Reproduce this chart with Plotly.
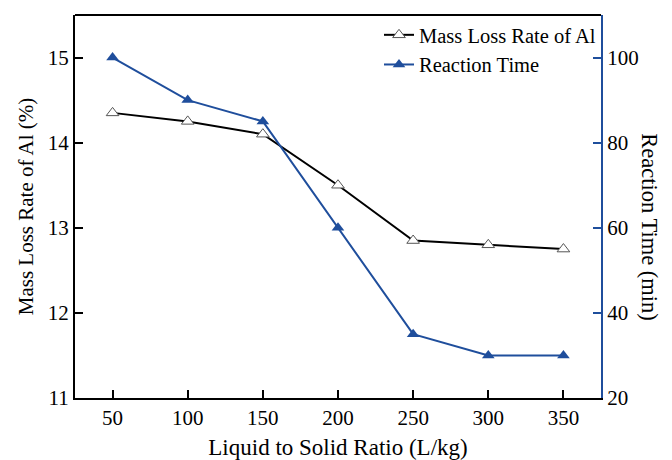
import plotly.graph_objects as go

ratio = [50, 100, 150, 200, 250, 300, 350]
mass_loss = [14.35, 14.25, 14.1, 13.5, 12.85, 12.8, 12.75]
reaction_time = [100, 90, 85, 60, 35, 30, 30]

BLUE = "#1F4E9C"
FONT = "Liberation Serif, Times New Roman, serif"
TICKFONT = dict(family=FONT, size=21, color="black")

fig = go.Figure()
fig.add_trace(go.Scatter(
    x=ratio, y=mass_loss, name="Mass Loss Rate of Al", mode="lines+markers",
    line=dict(color="black", width=2),
    marker=dict(symbol="triangle-up", size=11, color="white",
                line=dict(color="#555555", width=1)),
    yaxis="y"))
fig.add_trace(go.Scatter(
    x=ratio, y=reaction_time, name="Reaction Time", mode="lines+markers",
    line=dict(color=BLUE, width=2),
    marker=dict(symbol="triangle-up", size=11, color=BLUE),
    yaxis="y2"))

# page body adds an 8px offset, compensated in the margins
fig.update_layout(
    width=672, height=460,
    margin=dict(l=67, r=79, t=7, b=70, autoexpand=False),
    paper_bgcolor="white", plot_bgcolor="white",
    font=dict(family=FONT, size=18, color="black"),
    showlegend=True,
    legend=dict(x=1, xanchor="right", y=1, yanchor="top",
                bgcolor="rgba(0,0,0,0)", font=dict(family=FONT, size=20.5),
                tracegroupgap=0, itemwidth=30),
    xaxis=dict(range=[25, 375], tickvals=ratio, ticks="inside", ticklen=8,
               tickwidth=2, tickcolor="black", showgrid=False, zeroline=False,
               showline=True, linecolor="black", linewidth=2, mirror=False,
               tickfont=TICKFONT, automargin=False,
               title=dict(text="Liquid to Solid Ratio (L/kg)", standoff=10,
                          font=dict(family=FONT, size=23, color="black"))),
    yaxis=dict(range=[11, 15.5], tickvals=[11, 12, 13, 14, 15], ticks="inside",
               ticklen=8, tickwidth=2, tickcolor="black", showgrid=False,
               zeroline=False, showline=True, linecolor="black", linewidth=2,
               tickfont=TICKFONT, automargin=False,
               title=dict(text="Mass Loss Rate of Al (%)", standoff=8,
                          font=dict(family=FONT, size=21, color="black"))),
    yaxis2=dict(range=[20, 110], tickvals=[20, 40, 60, 80, 100], overlaying="y",
                side="right", ticks="inside", ticklen=8, tickwidth=2,
                tickcolor=BLUE, showgrid=False, zeroline=False, showline=True,
                linecolor=BLUE, linewidth=2, tickfont=TICKFONT, automargin=False),
)
# right axis title (placed slightly below centre as in the reference)
fig.add_annotation(text="Reaction Time (min)", xref="paper", yref="paper",
                   x=1.093, y=0.446, textangle=90, showarrow=False,
                   xanchor="center", yanchor="middle",
                   font=dict(family=FONT, size=22.5, color="black"))
# top border
fig.add_shape(type="line", xref="paper", yref="paper", x0=0, x1=1, y0=1, y1=1,
              line=dict(color="black", width=2))

fig.write_html("out.html")
